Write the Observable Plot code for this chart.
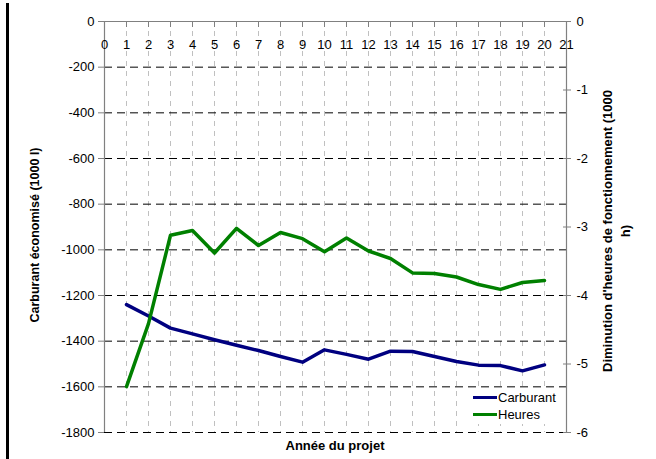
<!DOCTYPE html>
<html><head><meta charset="utf-8">
<script src="https://cdn.jsdelivr.net/npm/d3@7"></script>
<script src="https://cdn.jsdelivr.net/npm/@observablehq/plot@0.6"></script>
<style>
body{margin:0;background:#fff;font-family:Arial,"Liberation Sans",Helvetica,sans-serif;}
#wrap{position:relative;width:656px;height:459px;overflow:hidden;background:#fff}
.bar{position:absolute;left:6px;top:3px;width:3px;height:456px;background:#000}
.tt{position:absolute;font-family:Arial,"Liberation Sans",Helvetica,sans-serif;font-weight:bold;font-size:13px;white-space:nowrap;text-align:center;line-height:18px;color:#000}
.rot{transform:translate(-50%,-50%) rotate(-90deg)}
.xt{transform:translate(-50%,-50%)}
#legend{position:absolute;left:468px;top:388px;width:94px;height:36px;background:#fff;font-size:13px;font-family:Arial,"Liberation Sans",Helvetica,sans-serif}
#legend .row{position:absolute;left:5px;height:17px;display:flex;align-items:center}
#legend .sw{width:24px;height:3.5px;margin-right:1px}
</style></head>
<body>
<div id="wrap"></div>
<script>
const years = [1,2,3,4,5,6,7,8,9,10,11,12,13,14,15,16,17,18,19,20];
const carburant = [-1240,-1290,-1343,-1368,-1394,-1418,-1441,-1467,-1492,-1438,-1458,-1479,-1444,-1445,-1467,-1489,-1505,-1507,-1530,-1504];
const heures = [-5.33,-4.41,-3.12,-3.05,-3.38,-3.02,-3.27,-3.08,-3.17,-3.36,-3.16,-3.35,-3.46,-3.67,-3.68,-3.73,-3.84,-3.91,-3.81,-3.78];
const seriesNames = ["Carburant","Heures"];
const seriesColors = ["#000080","#008000"];
const xTicks = d3.range(0,22);
const leftTicks = [0,-200,-400,-600,-800,-1000,-1200,-1400,-1600,-1800];
const rightTicks = [0,-1,-2,-3,-4,-5,-6];
const xTitle = "Année du projet";
const yLeftTitle = "Carburant économisé (1000 l)";
const yRightTitle = ["Diminution d'heures de fonctionnement (1000","h)"];
const k = 1800/6; // right axis -> left axis units

const dataC = years.map((y,i)=>({year:y, v:carburant[i]}));
const dataH = years.map((y,i)=>({year:y, v:heures[i]*k}));

const FF = 'Arial,"Liberation Sans",Helvetica,sans-serif';
const chart = Plot.plot({
  width:656, height:459,
  marginLeft:104, marginRight:90, marginTop:21, marginBottom:27,
  style:{fontFamily:FF, fontSize:"13px", background:"transparent"},
  x:{domain:[0,21], axis:null},
  y:{domain:[-1800,0], axis:null},
  marks:[
    Plot.ruleX(xTicks.filter(d=>d>0 && d<21), {x:d=>d, stroke:"#c0c0c0", strokeDasharray:"5,5"}),
    Plot.ruleY(leftTicks.filter(d=>d<0), {y:d=>d, stroke:"#000", strokeDasharray:"8,5"}),
    Plot.ruleX([0,21], {x:d=>d, stroke:"#808080", strokeWidth:1.2}),
    Plot.ruleY([0], {y:d=>d, stroke:"#808080", strokeWidth:1.2}),
    Plot.axisY({anchor:"left", ticks:leftTicks, tickSize:6, tickPadding:4, tickFormat:d=>String(d), stroke:"#808080", label:null, fontSize:13}),
    Plot.axisY({anchor:"right", ticks:rightTicks.map(d=>d*k), tickSize:4, tickPadding:6, tickFormat:d=>String(Math.round(d/k)), stroke:"#808080", label:null, fontSize:13}),
    Plot.axisY({anchor:"right", ticks:rightTicks.map(d=>d*k), tickSize:-4, tickFormat:()=>"", stroke:"#808080", label:null}),
    Plot.axisX({anchor:"top", ticks:xTicks, tickSize:-5, tickFormat:()=>"", stroke:"#808080", label:null}),
    Plot.text(xTicks, {x:d=>d, text:d=>String(d), frameAnchor:"top", dy:18, fontSize:13, fill:"#000"}),
    Plot.line(dataC, {x:"year", y:"v", stroke:seriesColors[0], strokeWidth:3.5, strokeLinejoin:"round"}),
    Plot.line(dataH, {x:"year", y:"v", stroke:seriesColors[1], strokeWidth:3.5, strokeLinejoin:"round"})
  ]
});
const wrap = document.getElementById("wrap");
chart.style.position="absolute"; chart.style.left="0"; chart.style.top="0";
wrap.appendChild(chart);

const bar = document.createElement("div"); bar.className="bar"; wrap.appendChild(bar);

const t1 = document.createElement("div"); t1.className="tt rot";
t1.style.left="35px"; t1.style.top="235px"; t1.style.fontSize="12.5px"; t1.textContent=yLeftTitle; wrap.appendChild(t1);

const t2 = document.createElement("div"); t2.className="tt rot";
t2.style.left="617px"; t2.style.top="231px"; t2.innerHTML=yRightTitle.join("<br>"); wrap.appendChild(t2);

const t3 = document.createElement("div"); t3.className="tt xt";
t3.style.left="335px"; t3.style.top="446px"; t3.textContent=xTitle; wrap.appendChild(t3);

const lg = document.createElement("div"); lg.id="legend";
seriesNames.forEach((n,i)=>{
  const r=document.createElement("div"); r.className="row"; r.style.top=(i*17+1)+"px";
  const s=document.createElement("div"); s.className="sw"; s.style.background=seriesColors[i];
  const t=document.createElement("span"); t.textContent=n;
  r.appendChild(s); r.appendChild(t); lg.appendChild(r);
});
wrap.appendChild(lg);
</script>
</body></html>
